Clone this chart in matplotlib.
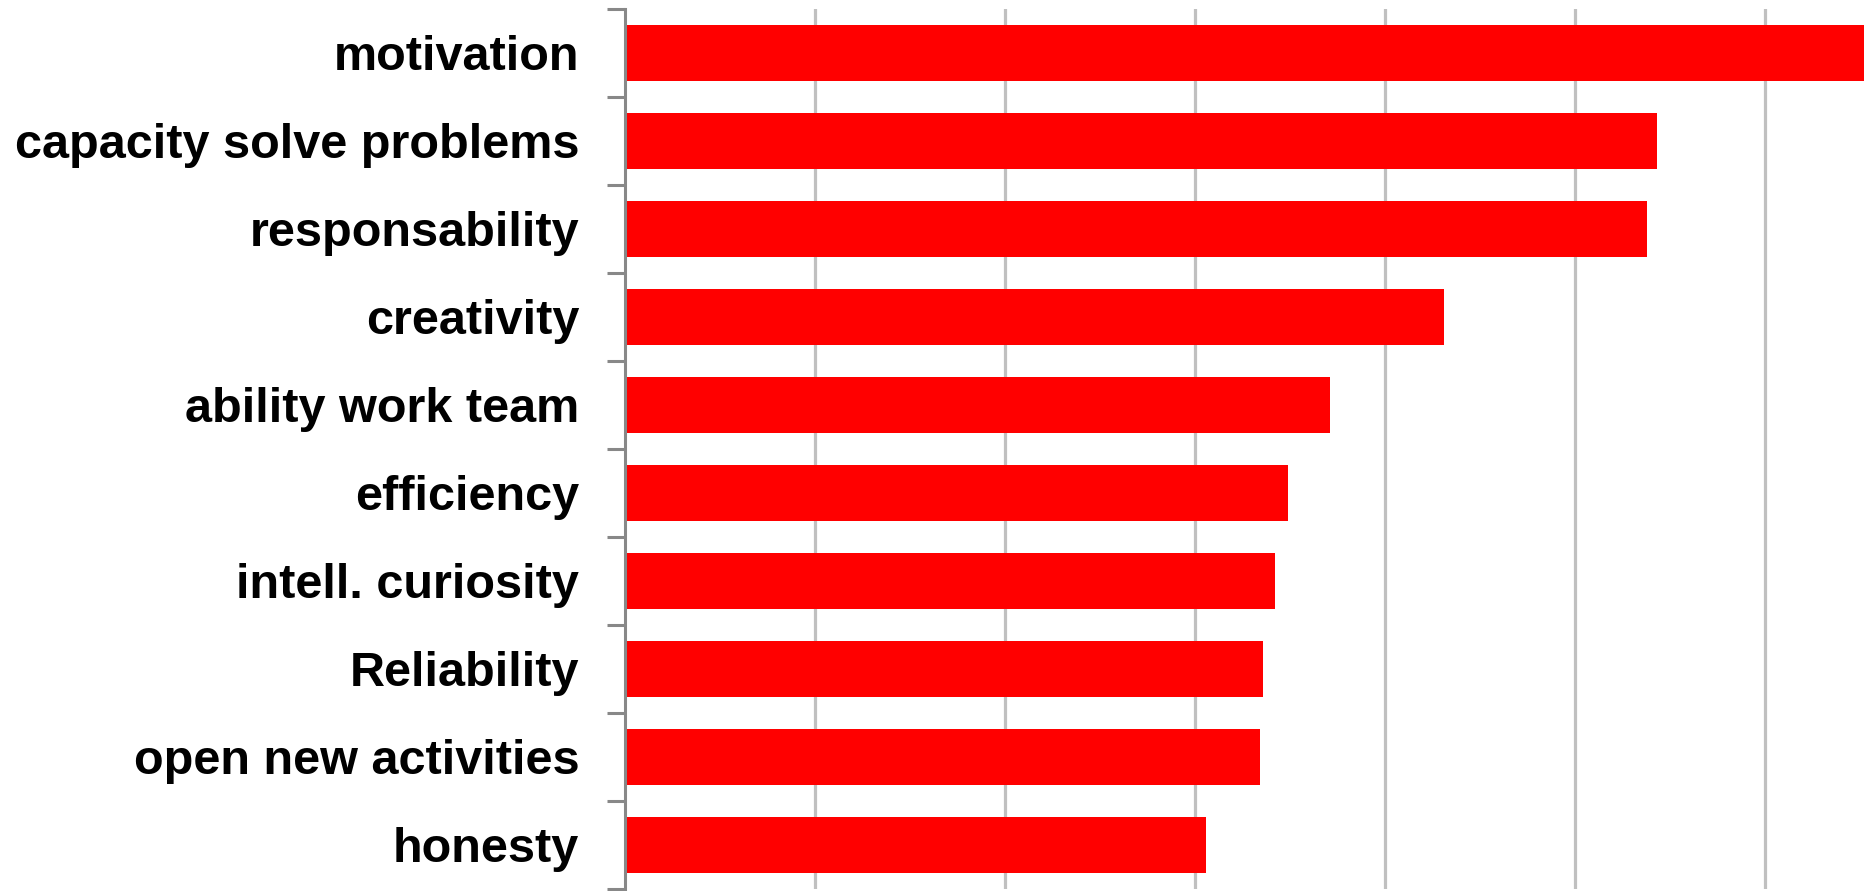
import matplotlib.pyplot as plt
import numpy as np

# categories from top to bottom
categories = ["motivation", "capacity solve problems", "responsability", "creativity",
              "ability work team", "efficiency", "intell. curiosity", "Reliability",
              "open new activities", "honesty"]
values = [6.8, 5.43, 5.38, 4.31, 3.71, 3.49, 3.42, 3.36, 3.34, 3.06]

plt.rcParams['font.family'] = ['Liberation Sans', 'DejaVu Sans']

fig = plt.figure(figsize=(18.64, 8.91), dpi=100, facecolor="white")
ax = fig.add_axes([625 / 1864, 2 / 891, 1 - 625 / 1864, 880 / 891])

y = np.arange(len(categories))[::-1]
ax.barh(y, values, height=0.64, color="#ff0000", zorder=2)

ax.set_xlim(0, (1864 - 625) / 190)
ax.set_ylim(-0.5, len(categories) - 0.5)

ax.set_xticks(np.arange(1, 7))
ax.xaxis.grid(True, color="#c0c0c0", linewidth=2.3)
ax.set_axisbelow(True)
ax.tick_params(axis="x", length=0, labelbottom=False)

ax.set_yticks(y)
ax.set_yticklabels(categories, fontsize=35, fontweight="bold")
ax.tick_params(axis="y", which="major", length=0, pad=33)
ax.set_yticks(np.arange(-0.5, len(categories)), minor=True)
ax.tick_params(axis="y", which="minor", length=13, width=2.2, color="#888888")

for side in ["top", "right", "bottom"]:
    ax.spines[side].set_visible(False)
ax.spines["left"].set_color("#888888")
ax.spines["left"].set_linewidth(2.2)

fig.savefig("out.png", dpi=100)
